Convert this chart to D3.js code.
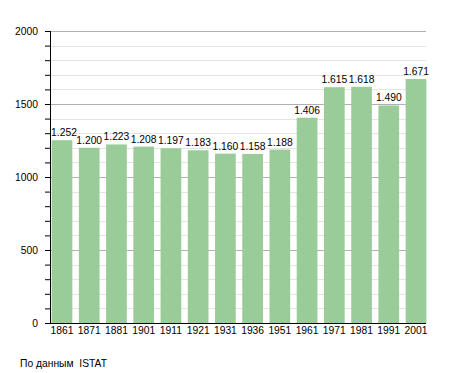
<!DOCTYPE html>
<html>
<head>
<meta charset="utf-8">
<script src="https://cdn.jsdelivr.net/npm/d3@7"></script>
<style>
  body { margin: 0; background: #fff; }
  text { font-family: "Liberation Sans", Arial, sans-serif; }
</style>
</head>
<body>
<div id="chart"></div>
<script>
// data
var years = ["1861", "1871", "1881", "1901", "1911", "1921", "1931", "1936", "1951", "1961", "1971", "1981", "1991", "2001"];
var population = [1252, 1200, 1223, 1208, 1197, 1183, 1160, 1158, 1188, 1406, 1615, 1618, 1490, 1671];
var yTicks = [0, 500, 1000, 1500, 2000];
var sourceNote = "По данным  ISTAT";

var svgWidth = 455, svgHeight = 373;
var margin = {top: 31, right: 27, bottom: 50, left: 50};
var width = svgWidth - margin.left - margin.right;
var height = svgHeight - margin.top - margin.bottom;
var fontSize = "10.3px";

var svg = d3.select("#chart")
  .append("svg")
    .attr("width", svgWidth)
    .attr("height", svgHeight)
  .append("g")
    .attr("transform", "translate(" + margin.left + "," + margin.top + ")");

var x = d3.scaleBand()
  .domain(years)
  .range([0, 378])
  .paddingInner(0.24)
  .paddingOuter(0.06);

var y = d3.scaleLinear()
  .domain([0, 2000])
  .range([height, 0]);

// minor grid every 100
var minor = d3.range(100, 2001, 100).filter(function(v) { return v % 500 != 0; });
svg.selectAll(".minor")
  .data(minor)
  .enter().append("line")
    .attr("x1", 0).attr("x2", 376)
    .attr("y1", function(d) { return Math.round(y(d)) + 0.5; })
    .attr("y2", function(d) { return Math.round(y(d)) + 0.5; })
    .attr("stroke", "#e4e4e4");

svg.selectAll(".major")
  .data(yTicks.slice(1))
  .enter().append("line")
    .attr("x1", 0).attr("x2", 376)
    .attr("y1", function(d) { return Math.round(y(d)) + 0.5; })
    .attr("y2", function(d) { return Math.round(y(d)) + 0.5; })
    .attr("stroke", "#b0b0b0");

// bars
svg.selectAll(".bar")
  .data(population)
  .enter().append("rect")
    .attr("x", function(d, i) { return x(years[i]); })
    .attr("width", x.bandwidth())
    .attr("y", function(d) { return y(d); })
    .attr("height", function(d) { return height - y(d); })
    .attr("fill", "#99cc99");

// value labels
var fmt = function(v) { return d3.format(",")(v).replace(",", "."); };
svg.selectAll(".val")
  .data(population)
  .enter().append("text")
    .attr("x", function(d, i) { return Math.max(x(years[i]) + x.bandwidth() / 2, 14); })
    .attr("y", function(d) { return y(d) - 4; })
    .attr("text-anchor", "middle")
    .style("font-size", fontSize)
    .attr("fill", "#000")
    .text(fmt);

// y axis with minor ticks
var yAxis = svg.append("g")
  .call(d3.axisLeft(y).tickValues(d3.range(0, 2001, 100)).tickSize(5)
    .tickFormat(function(d) { return d % 500 == 0 ? d : ""; }));
yAxis.select(".domain").attr("d", "M0.5," + height + "V0").attr("stroke", "#000");
yAxis.selectAll(".tick line").attr("stroke", "#000");
yAxis.selectAll(".tick text")
  .attr("x", -12)
  .attr("fill", "#000")
  .style("font-size", fontSize)
  .style("font-family", "Liberation Sans, Arial, sans-serif");

// x axis
var xAxis = svg.append("g")
  .attr("transform", "translate(0," + height + ")")
  .call(d3.axisBottom(x).tickSize(0));
xAxis.select(".domain").attr("d", "M0,0.5H376").attr("stroke", "#000");
xAxis.selectAll(".tick text")
  .attr("dy", "0.71em")
  .attr("y", 4)
  .attr("fill", "#000")
  .style("font-size", fontSize)
  .style("font-family", "Liberation Sans, Arial, sans-serif");

d3.select("svg").append("text")
  .attr("x", 20)
  .attr("y", 367)
  .style("font-size", fontSize)
  .style("white-space", "pre")
  .text(sourceNote);
</script>
</body>
</html>
